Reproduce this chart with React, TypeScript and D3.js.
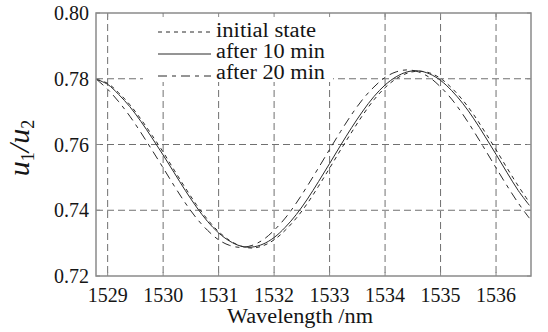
import React from "react";
import * as d3 from "d3";

const wavelengths = [
  1528.8, 1529.0, 1529.2, 1529.4, 1529.6, 1529.8, 1530.0, 1530.2, 1530.4, 1530.6,
  1530.8, 1531.0, 1531.2, 1531.4, 1531.6, 1531.8, 1532.0, 1532.2, 1532.4, 1532.6,
  1532.8, 1533.0, 1533.2, 1533.4, 1533.6, 1533.8, 1534.0, 1534.2, 1534.4, 1534.6,
  1534.8, 1535.0, 1535.2, 1535.4, 1535.6, 1535.8, 1536.0, 1536.2, 1536.4, 1536.6,
];

const initialState = [
  0.7798, 0.7786, 0.7757, 0.7721, 0.7677, 0.7628, 0.7577, 0.7522, 0.7468, 0.7417,
  0.7372, 0.7335, 0.7308, 0.7291, 0.7285, 0.7292, 0.7310, 0.7339, 0.7376, 0.7421,
  0.7473, 0.7528, 0.7584, 0.7638, 0.7690, 0.7736, 0.7773, 0.7800, 0.7817, 0.7823,
  0.7818, 0.7801, 0.7772, 0.7735, 0.7690, 0.7638, 0.7584, 0.7528, 0.7474, 0.7424,
];

const after10 = [
  0.7798, 0.7783, 0.7752, 0.7715, 0.7670, 0.7620, 0.7568, 0.7514, 0.7460, 0.7410,
  0.7366, 0.7331, 0.7306, 0.7291, 0.7288, 0.7297, 0.7317, 0.7348, 0.7387, 0.7434,
  0.7487, 0.7542, 0.7598, 0.7652, 0.7702, 0.7746, 0.7781, 0.7806, 0.7821, 0.7824,
  0.7815, 0.7795, 0.7764, 0.7725, 0.7678, 0.7625, 0.7570, 0.7514, 0.7460, 0.7415,
];

const after20 = [
  0.7798, 0.7768, 0.7730, 0.7686, 0.7636, 0.7583, 0.7529, 0.7474, 0.7422, 0.7376,
  0.7339, 0.7310, 0.7293, 0.7287, 0.7293, 0.7310, 0.7339, 0.7376, 0.7422, 0.7474,
  0.7529, 0.7585, 0.7640, 0.7692, 0.7738, 0.7775, 0.7804, 0.7821, 0.7827, 0.7821,
  0.7804, 0.7775, 0.7738, 0.7692, 0.7640, 0.7585, 0.7529, 0.7474, 0.7422, 0.7376,
];

const xTicks = [1529, 1530, 1531, 1532, 1533, 1534, 1535, 1536];
const yTicks = [0.72, 0.74, 0.76, 0.78, 0.8];
const yGrid = [0.74, 0.76, 0.78];
const legendLabels = ["initial state", "after 10 min", "after 20 min"];
const legendWidths = [100, 109, 109];

const W = 548;
const H = 332;
const L = 96;
const R = 531;
const T = 13;
const B = 276;

export default function App() {
  const x = d3.scaleLinear().domain([1528.79, 1536.63]).range([L, R]);
  const y = d3.scaleLinear().domain([0.72, 0.8]).range([B, T]);
  const line = (vals: number[]) =>
    d3
      .line<number>()
      .x((_, i) => x(wavelengths[i]))
      .y((v) => y(v))
      .curve(d3.curveCatmullRom)(vals) as string;

  const series = [
    { vals: initialState, dash: "4,4", label: legendLabels[0] },
    { vals: after10, dash: "none", label: legendLabels[1] },
    { vals: after20, dash: "9,5,4,5", label: legendLabels[2] },
  ];

  const font = "'Liberation Serif'";
  const axisColor = "#8a8a8a";
  const gridColor = "#707070";
  const ink = "#151515";

  return (
    <svg
      width={W}
      height={H}
      style={{ position: "absolute", left: 0, top: 0, background: "#fff" }}
    >
      <rect x={0} y={0} width={W} height={H} fill="#fff" />
      {/* grid */}
      {xTicks.map((t) => (
        <line
          key={"gx" + t}
          x1={x(t)}
          x2={x(t)}
          y1={T}
          y2={B}
          stroke={gridColor}
          strokeWidth={1}
          strokeDasharray="7,4"
        />
      ))}
      {yGrid.map((t) => (
        <line
          key={"gy" + t}
          x1={L}
          x2={R}
          y1={y(t)}
          y2={y(t)}
          stroke={gridColor}
          strokeWidth={1}
          strokeDasharray="7,4"
        />
      ))}
      {/* curves */}
      {series.map((s, i) => (
        <path
          key={"s" + i}
          d={line(s.vals)}
          fill="none"
          stroke="#2a2a2a"
          strokeWidth={1}
          strokeDasharray={s.dash}
        />
      ))}
      {/* legend */}
      <rect x={143} y={T + 1} width={190} height={68} fill="#fff" />
      {series.map((s, i) => (
        <g key={"lg" + i}>
          <line
            x1={158}
            x2={211}
            y1={32 + i * 22}
            y2={32 + i * 22}
            stroke="#2a2a2a"
            strokeWidth={1}
            strokeDasharray={s.dash}
          />
          <text
            x={216}
            y={37 + i * 21}
            fontFamily={font}
            fontSize={20}
            textLength={legendWidths[i]}
            lengthAdjust="spacingAndGlyphs"
            fill={ink}
          >
            {s.label}
          </text>
        </g>
      ))}
      {/* frame */}
      <rect
        x={L}
        y={T}
        width={R - L}
        height={B - T}
        fill="none"
        stroke={axisColor}
        strokeWidth={1.5}
      />
      {xTicks.map((t) => (
        <g key={"tx" + t}>
          <line x1={x(t)} x2={x(t)} y1={B} y2={B - 4} stroke={axisColor} strokeWidth={1} />
          <line x1={x(t)} x2={x(t)} y1={T} y2={T + 4} stroke={axisColor} strokeWidth={1} />
          <text
            x={x(t)}
            y={302}
            textAnchor="middle"
            fontFamily={font}
            fontSize={20}
            fill={ink}
          >
            {t}
          </text>
        </g>
      ))}
      {yTicks.map((t) => (
        <g key={"ty" + t}>
          <line x1={L} x2={L + 4} y1={y(t)} y2={y(t)} stroke={axisColor} strokeWidth={1} />
          <line x1={R} x2={R - 4} y1={y(t)} y2={y(t)} stroke={axisColor} strokeWidth={1} />
          <text
            x={89}
            y={y(t) + 7}
            textAnchor="end"
            fontFamily={font}
            fontSize={20}
            fill={ink}
          >
            {t.toFixed(2)}
          </text>
        </g>
      ))}
      <text
        x={227}
        y={323}
        fontFamily={font}
        fontSize={20}
        textLength={146}
        lengthAdjust="spacingAndGlyphs"
        fill={ink}
      >
        Wavelength /nm
      </text>
      <text
        transform="translate(29,148) rotate(-90)"
        textAnchor="middle"
        fontFamily={font}
        fontSize={30}
        fontStyle="italic"
        fill={ink}
      >
        u<tspan fontSize={18} fontStyle="normal" dy={5}>1</tspan>
        <tspan dy={-5}>/u</tspan>
        <tspan fontSize={18} fontStyle="normal" dy={5}>2</tspan>
      </text>
    </svg>
  );
}
